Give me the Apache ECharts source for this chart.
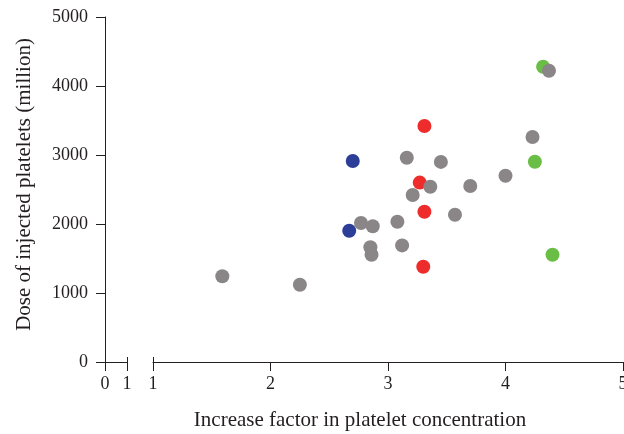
<!DOCTYPE html>
<html>
<head>
<meta charset="utf-8">
<script src="https://cdn.jsdelivr.net/npm/echarts@6/dist/echarts.min.js"></script>
<style>
html, body { margin: 0; padding: 0; background: #fff; }
#chart { width: 624px; height: 434px; }
</style>
</head>
<body>
<div id="chart"></div>
<script>
// [increase factor, dose (million)]
var grayPts = [
  [4.37, 4220], [4.23, 3260], [3.16, 2960], [3.45, 2900], [4.00, 2700],
  [3.36, 2540], [3.70, 2550], [3.21, 2420], [3.57, 2135], [2.77, 2015],
  [2.87, 1967], [3.08, 2033], [2.85, 1662], [2.86, 1555], [3.12, 1690],
  [1.59, 1242], [2.25, 1120]
];
var redPts = [[3.31, 3420], [3.27, 2600], [3.31, 2178], [3.30, 1380]];
var bluePts = [[2.70, 2913], [2.67, 1903]];
var greenPts = [[4.32, 4280], [4.25, 2903], [4.40, 1555]];

var leftTicks = [0, 1];
var mainTicks = [1, 2, 3, 4, 5];

var ink = '#231f20';
var font = 'Liberation Serif';

var chart = echarts.init(document.getElementById('chart'));

// short upward marks at the ends of the broken x axis
var breakTick = function (gridIndex, min, max, at) {
  return {
    gridIndex: gridIndex, type: 'value', min: min, max: max, position: 'top',
    offset: -345,
    axisLine: { show: false },
    axisTick: { show: true, length: 5, customValues: at, lineStyle: { color: ink } },
    axisLabel: { show: false },
    splitLine: { show: false }
  };
};

chart.setOption({
  animation: false,
  grid: [
    { left: 105, width: 22, top: 17, height: 345, outerBoundsMode: 'none' },
    { left: 153, right: 1, top: 17, height: 345, outerBoundsMode: 'none' }
  ],
  xAxis: [
    {
      gridIndex: 0, type: 'value', min: 0, max: 1, interval: 1,
      axisLine: { lineStyle: { color: ink } },
      axisTick: { length: 9, lineStyle: { color: ink } },
      axisLabel: { color: ink, fontFamily: font, fontSize: 18, margin: 13, customValues: leftTicks },
      splitLine: { show: false }
    },
    {
      gridIndex: 1, type: 'value', min: 1, max: 5, interval: 1,
      name: 'Increase factor in platelet concentration',
      nameLocation: 'middle', nameGap: 48,
      nameTextStyle: { color: ink, fontFamily: font, fontSize: 21, padding: [0, 56, 0, 0] },
      axisLine: { lineStyle: { color: ink } },
      axisTick: { length: 9, lineStyle: { color: ink }, customValues: mainTicks },
      axisLabel: { color: ink, fontFamily: font, fontSize: 18, margin: 13, customValues: mainTicks },
      splitLine: { show: false }
    },
    breakTick(0, 0, 1, [1]),
    breakTick(1, 1, 5, [1])
  ],
  yAxis: [
    {
      gridIndex: 0, type: 'value', min: 0, max: 5000, show: false
    },
    {
      gridIndex: 1, type: 'value', min: 0, max: 5000, interval: 1000, offset: 48,
      name: 'Dose of injected platelets (million)',
      nameLocation: 'middle', nameGap: 70,
      nameTextStyle: { color: ink, fontFamily: font, fontSize: 21, padding: [0, 0, 0, 10] },
      axisLine: { show: true, lineStyle: { color: ink } },
      axisTick: { show: true, length: 9, lineStyle: { color: ink } },
      axisLabel: { color: ink, fontFamily: font, fontSize: 18, margin: 17, formatter: function (v) { return String(v); } },
      splitLine: { show: false }
    }
  ],
  series: [
    { type: 'scatter', xAxisIndex: 1, yAxisIndex: 1, data: redPts, symbolSize: 14, itemStyle: { color: '#ee2c2c', opacity: 1 } },
    { type: 'scatter', xAxisIndex: 1, yAxisIndex: 1, data: bluePts, symbolSize: 14, itemStyle: { color: '#2c3e98', opacity: 1 } },
    { type: 'scatter', xAxisIndex: 1, yAxisIndex: 1, data: greenPts, symbolSize: 14, itemStyle: { color: '#6abd45', opacity: 1 } },
    { type: 'scatter', xAxisIndex: 1, yAxisIndex: 1, data: grayPts, symbolSize: 14, itemStyle: { color: '#8a8586', opacity: 1 } }
  ]
});
</script>
</body>
</html>
